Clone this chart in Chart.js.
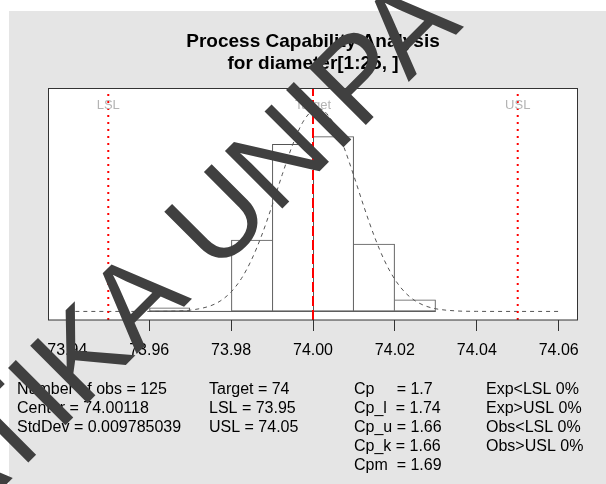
<!DOCTYPE html>
<html>
<head>
<meta charset="utf-8">
<script src="https://cdn.jsdelivr.net/npm/chart.js@4/dist/chart.umd.min.js"></script>
<style>
  html, body { margin: 0; padding: 0; background: #ffffff; }
</style>
</head>
<body>
<canvas id="cap" width="606" height="484"></canvas>
<script>
// Histogram of diameter[1:25, ] (bin edges and counts)
const binEdges = [73.96, 73.97, 73.98, 73.99, 74.00, 74.01, 74.02, 74.03];
const binCounts = [1, 0, 18, 42, 44, 17, 3];

// Fitted normal density curve (dashed)
const curveX = [73.94, 73.945, 73.95, 73.955, 73.96, 73.965, 73.97, 73.975, 73.9775, 73.98,
  73.9825, 73.985, 73.9875, 73.99, 73.9925, 73.995, 73.9975, 74.00, 74.001, 74.0025, 74.005,
  74.0075, 74.01, 74.0125, 74.015, 74.0175, 74.02, 74.0225, 74.025, 74.0275, 74.03, 74.035,
  74.04, 74.045, 74.05, 74.055, 74.06];
const curveY = [0, 0, 0, 0.001, 0.006, 0.044, 0.255, 1.14, 2.18, 3.92,
  6.59, 10.40, 15.35, 21.24, 27.51, 33.41, 37.99, 40.47, 40.76, 40.40, 37.78,
  33.09, 27.16, 20.88, 15.04, 10.14, 6.42, 3.80, 2.11, 1.09, 0.533, 0.104,
  0.016, 0.002, 0, 0, 0];

// Axis ticks and ranges
const xTicks = [73.94, 73.96, 73.98, 74.00, 74.02, 74.04, 74.06];
const xRange = [73.9354, 74.0646];
const yRange = [-1.72, 44.77];

// Summary statistics
const nObs = 125;
const centerVal = 74.00118;
const stdDev = 0.009785039;
const targetVal = 74;
const lslVal = 73.95;
const uslVal = 74.05;
const capLabels = ['Cp     ', 'Cp_l  ', 'Cp_u ', 'Cp_k ', 'Cpm  '];
const capValues = [1.7, 1.74, 1.66, 1.66, 1.69];
const pctLabels = ['Exp<LSL', 'Exp>USL', 'Obs<LSL', 'Obs>USL'];
const pctValues = [0, 0, 0, 0];

const FONT = '"Liberation Sans", Arial, Helvetica, sans-serif';
const binWidth = binEdges[1] - binEdges[0];
const last = binCounts.length - 1;

const barData = binCounts.map((c, i) => ({
  x: (binEdges[i] + binEdges[i + 1]) / 2,
  y: c / (nObs * binWidth)
}));
const curveData = curveX.map((x, i) => ({ x: x, y: curveY[i] }));
const vline = v => [{ x: v, y: yRange[0] }, { x: v, y: yRange[1] }];

const pageBackground = {
  id: 'pageBackground',
  beforeDraw(chart) {
    const { ctx, chartArea: a } = chart;
    ctx.save();
    ctx.fillStyle = '#ffffff';
    ctx.fillRect(0, 0, chart.width, chart.height);
    ctx.fillStyle = '#e5e5e5';
    ctx.fillRect(9, 11, chart.width - 9, chart.height - 11);
    ctx.fillStyle = '#ffffff';
    ctx.fillRect(a.left, a.top, a.right - a.left, a.bottom - a.top);
    ctx.restore();
  }
};

const plotFrame = {
  id: 'plotFrame',
  afterDatasetsDraw(chart) {
    const { ctx, chartArea: a } = chart;
    const xs = chart.scales.x;
    ctx.save();
    ctx.strokeStyle = '#333333';
    ctx.lineWidth = 1;
    ctx.strokeRect(a.left, a.top, a.right - a.left, a.bottom - a.top);
    ctx.font = '13px ' + FONT;
    ctx.fillStyle = '#b4b4b4';
    ctx.textAlign = 'center';
    ctx.textBaseline = 'middle';
    [['LSL', lslVal], ['Target', targetVal], ['USL', uslVal]].forEach(([t, v]) => {
      ctx.fillText(t, xs.getPixelForValue(v), a.top + 16.5);
    });
    ctx.restore();
  }
};

const statsText = {
  id: 'statsText',
  afterDraw(chart) {
    const ctx = chart.ctx;
    const rows = [394, 413, 432, 451, 470];
    ctx.save();
    ctx.font = '16px ' + FONT;
    ctx.fillStyle = '#000000';
    ctx.textAlign = 'left';
    ctx.textBaseline = 'alphabetic';
    const col1 = ['Number of obs = ' + nObs, 'Center = ' + centerVal, 'StdDev = ' + stdDev];
    const col2 = ['Target = ' + targetVal, 'LSL = ' + lslVal, 'USL = ' + uslVal];
    const col3 = capLabels.map((l, i) => l + '= ' + capValues[i]);
    const col4 = pctLabels.map((l, i) => l + ' ' + pctValues[i] + '%');
    col1.forEach((t, i) => ctx.fillText(t, 17, rows[i]));
    col2.forEach((t, i) => ctx.fillText(t, 209, rows[i]));
    col3.forEach((t, i) => ctx.fillText(t, 354, rows[i]));
    col4.forEach((t, i) => ctx.fillText(t, 486, rows[i]));
    ctx.restore();
  }
};

const watermark = {
  id: 'watermark',
  afterDraw(chart) {
    const ctx = chart.ctx;
    const text = 'INFORMATIKA UNIPA';
    ctx.save();
    ctx.font = '118px ' + FONT;
    ctx.fillStyle = '#404040';
    ctx.textAlign = 'left';
    ctx.textBaseline = 'alphabetic';
    ctx.translate(164.3, 326.4);
    ctx.rotate(-45 * Math.PI / 180);
    const off = ctx.measureText('INFORMATIK').width + ctx.measureText('A').width / 2;
    ctx.fillText(text, -off, 0);
    ctx.restore();
  }
};

new Chart(document.getElementById('cap'), {
  type: 'bar',
  data: {
    datasets: [
      {
        type: 'line', order: 1, data: vline(lslVal),
        borderColor: '#ff0000', borderWidth: 2, borderDash: [2, 5], pointRadius: 0
      },
      {
        type: 'line', order: 1, data: vline(uslVal),
        borderColor: '#ff0000', borderWidth: 2, borderDash: [2, 5], pointRadius: 0
      },
      {
        type: 'line', order: 1, data: vline(targetVal),
        borderColor: '#ff0000', borderWidth: 2, borderDash: [10, 4], pointRadius: 0
      },
      {
        type: 'line', order: 2, data: curveData,
        borderColor: '#555555', borderWidth: 1, borderDash: [4, 4],
        pointRadius: 0, cubicInterpolationMode: 'monotone'
      },
      {
        type: 'line', order: 3,
        data: [{ x: binEdges[0], y: 0 }, { x: binEdges[binEdges.length - 1], y: 0 }],
        borderColor: '#555555', borderWidth: 1, pointRadius: 0
      },
      {
        type: 'bar', order: 4, data: barData,
        backgroundColor: 'rgba(255,255,255,0)',
        borderColor: '#555555',
        borderSkipped: false,
        inflateAmount: 0,
        borderWidth: ctx => {
          const i = ctx.dataIndex;
          return {
            top: 1, bottom: 1,
            left: (i === 0 || binCounts[i] > binCounts[i - 1]) ? 1 : 0,
            right: (i === last || binCounts[i] >= binCounts[i + 1]) ? 1 : 0
          };
        },
        barPercentage: 1, categoryPercentage: 1, grouped: false
      }
    ]
  },
  options: {
    responsive: false,
    animation: false,
    devicePixelRatio: 1,
    layout: { padding: { left: 48.5, right: 28.5, top: 0, bottom: 113.8 } },
    plugins: {
      legend: { display: false },
      tooltip: { enabled: false },
      title: {
        display: true,
        text: ['Process Capability Analysis', 'for diameter[1:25, ]'],
        color: '#000000',
        font: { family: FONT, size: 19, weight: 'bold', lineHeight: 22 / 19 },
        padding: { top: 30.4, bottom: 14.1 }
      }
    },
    scales: {
      x: {
        type: 'linear',
        min: xRange[0], max: xRange[1],
        bounds: 'data',
        offset: false,
        afterBuildTicks: axis => { axis.ticks = xTicks.map(v => ({ value: v })); },
        grid: {
          offset: false, drawOnChartArea: false, drawTicks: true,
          tickLength: 11, tickColor: '#333333', tickWidth: 1
        },
        border: { display: false },
        ticks: {
          color: '#000000', padding: 10, maxRotation: 0, autoSkip: false,
          font: { family: FONT, size: 16 },
          callback: v => Number(v).toFixed(2)
        }
      },
      y: {
        type: 'linear',
        display: false,
        min: yRange[0], max: yRange[1],
        bounds: 'data'
      }
    }
  },
  plugins: [pageBackground, plotFrame, statsText, watermark]
});
</script>
</body>
</html>
